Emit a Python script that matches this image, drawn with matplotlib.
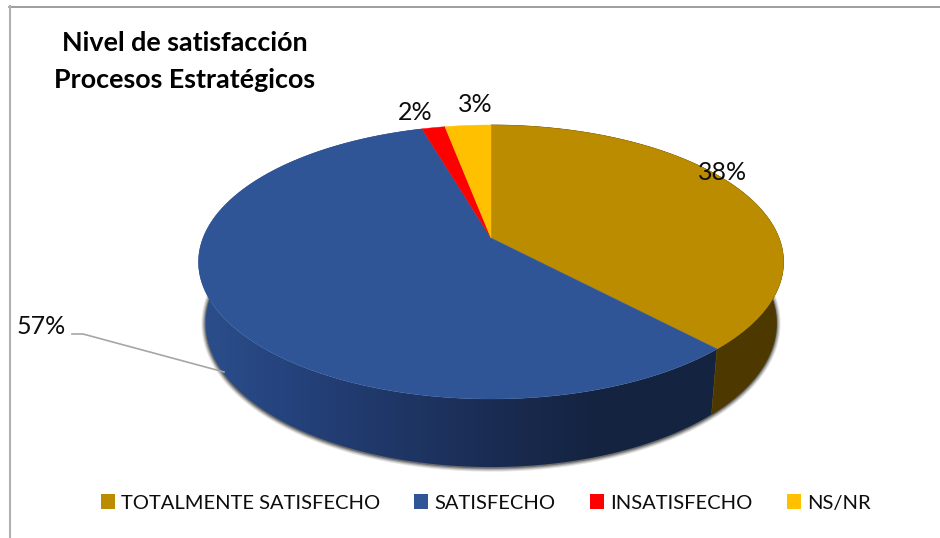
import numpy as np
import matplotlib.pyplot as plt
from matplotlib.colors import to_rgb
from matplotlib.patches import Patch, Polygon

plt.rcParams['font.family'] = ['Lato', 'DejaVu Sans']

# valeurs
categories = ['TOTALMENTE SATISFECHO', 'SATISFECHO', 'INSATISFECHO', 'NS/NR']
values = [38.0, 57.49, 1.51, 3.0]
top_colors = ['#bb8b00', '#2f5597', '#ff0000', '#ffc000']
title_lines = ['Nivel de satisfacción', 'Procesos Estratégicos']

# position des etiquettes, en pixels
label_xy = [(723, 172), (41, 326), (415, 113), (475, 105)]

# parametres de la perspective
CX, CY = 491, 238
K_TOP, K_BOT = 288, 281
PERSP = -0.1752
A_Y = 91.1
S_BOT, DY_BOT = 1.05, 60


def rim(theta, bottom=False):
    # projection du cercle vers l'ellipse, theta en radians depuis le haut
    u = np.sin(theta)
    v = -np.cos(theta)
    den = 1 + PERSP * v
    x = (K_BOT if bottom else K_TOP) * u / den + CX
    y = (A_Y * v + CY) / den
    if bottom:
        y = CY + DY_BOT + (y - CY) * S_BOT
    return x, y


def wall_gradient(xs):
    xp = [205, 300, 420, 491, 600]
    cols = np.array([to_rgb(c) for c in ['#2b4e8b', '#24417a', '#1e3461', '#1a2c53', '#14233f']])
    return np.stack([np.interp(xs, xp, cols[:, i]) for i in range(3)], axis=-1)


fig = plt.figure(figsize=(9.4, 5.38), dpi=100)
ax = fig.add_axes([0, 0, 1, 1])
ax.set_xlim(0, 940)
ax.set_ylim(538, 0)
ax.axis('off')

# cadre
ax.plot([9, 940], [6.5, 6.5], color='#8c8c8c', lw=1.2, zorder=1)
ax.plot([9.5, 9.5], [6, 538], color='#b0b0b0', lw=1.5, zorder=1)

edges = np.radians(np.concatenate([[0], np.cumsum(values)]) / sum(values) * 360)

# ombre sous le bord inferieur
t = np.radians(np.linspace(62, 298, 200))
sx, sy = rim(t, bottom=True)
for lw, alpha in [(6, 0.1), (4.5, 0.14), (3, 0.2), (1.5, 0.3)]:
    ax.plot(sx, sy + 0.5, color='black', alpha=alpha, lw=lw, solid_capstyle='round', zorder=2)

# paroi bleue en degrade, coupee sur le contour de la tranche
t = np.linspace(edges[1], edges[2], 300)
x1, y1 = rim(t)
x2, y2 = rim(t, bottom=True)
blue_wall = np.column_stack([np.r_[x1, x2[::-1]], np.r_[y1, y2[::-1]]])
xs = np.arange(190, 800)
img = ax.imshow(wall_gradient(xs)[np.newaxis, :, :], extent=(190, 800, 480, 120), aspect='auto', zorder=3)
img.set_clip_path(Polygon(blue_wall, transform=ax.transData))
ax.set_xlim(0, 940)
ax.set_ylim(538, 0)

# paroi or
t = np.linspace(edges[0], edges[1], 120)
x1, y1 = rim(t)
x2, y2 = rim(t, bottom=True)
ax.fill(np.r_[x1, x2[::-1]], np.r_[y1, y2[::-1]], color='#4d3900', lw=0.5, zorder=3)

# dessus du camembert
for i in range(len(values)):
    t = np.linspace(edges[i], edges[i + 1], 200)
    x, y = rim(t)
    ax.fill(np.r_[CX, x], np.r_[CY, y], color=top_colors[i], lw=0.3, zorder=4)

# etiquettes
for v, (lx, ly) in zip(values, label_xy):
    ax.text(lx, ly, '{:.0f}%'.format(v), ha='center', va='center', fontsize=18, color='#0d0d0d', zorder=6)

# trait de rappel du 57 %
ax.plot([72, 83, 224], [334, 334, 372], color='#a6a6a6', lw=1.2, zorder=5)

# titre
ax.text(185, 43, title_lines[0], ha='center', va='center', fontsize=19.4, fontweight='bold', color='black', zorder=6)
ax.text(185, 80, title_lines[1], ha='center', va='center', fontsize=19.4, fontweight='bold', color='black', zorder=6)

handles = [Patch(facecolor=c, linewidth=0) for c in top_colors]
leg = ax.legend(handles, categories, ncol=4, frameon=False, fontsize=14.5,
                loc='center', bbox_to_anchor=(485.5 / 940, 1 - 503 / 538),
                handlelength=0.7, handleheight=0.7, handletextpad=0.3, columnspacing=1.7,
                borderpad=0, labelcolor='#0d0d0d')

fig.savefig('out.png', dpi=100)
